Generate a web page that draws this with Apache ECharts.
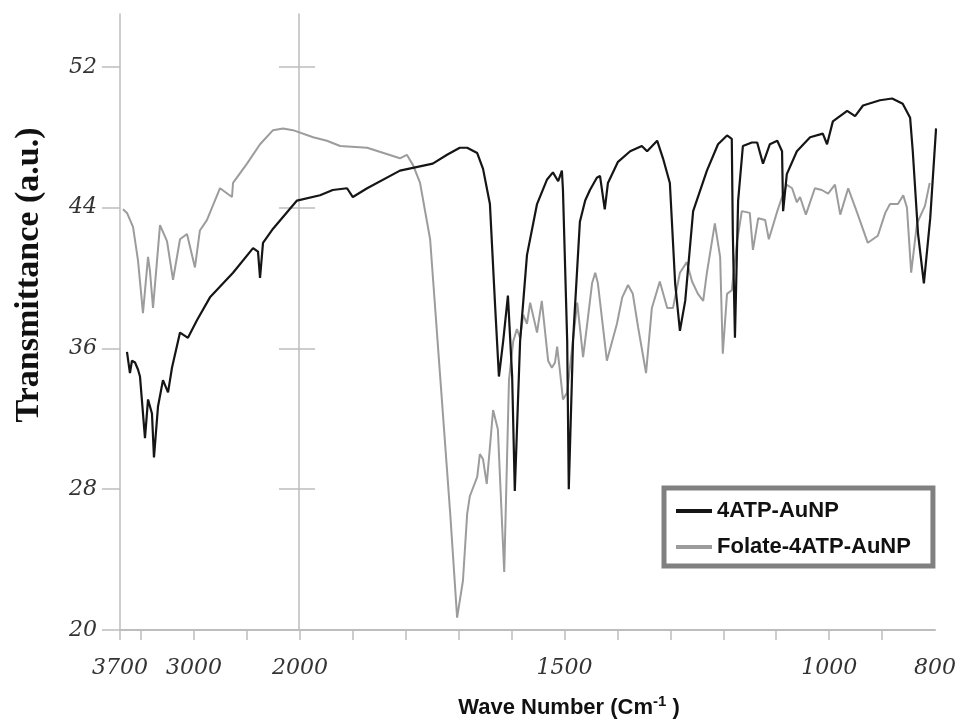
<!DOCTYPE html>
<html>
<head>
<meta charset="utf-8">
<title>FTIR spectra</title>
<script src="https://cdn.jsdelivr.net/npm/echarts@6/dist/echarts.min.js"></script>
<style>
  html, body { margin: 0; padding: 0; background: #fff; }
  #chart { width: 961px; height: 721px; }
</style>
</head>
<body>
<div id="chart"></div>
<script>
// Series names
const seriesNames = ['4ATP-AuNP', 'Folate-4ATP-AuNP'];

// 4ATP-AuNP (wave number cm-1, transmittance a.u.)
const waveBlack = [3634, 3606, 3587, 3558, 3530, 3511, 3464, 3435, 3398, 3379, 3341, 3294, 3246, 3209, 3133, 3058, 2973, 2850, 2632, 2443, 2396, 2377, 2349, 2254, 2028,
  1962, 1938, 1911, 1900, 1873, 1811, 1749, 1722, 1698, 1684, 1665, 1654, 1641, 1631, 1624, 1616, 1607, 1599, 1594, 1584, 1571, 1552, 1533, 1522, 1512, 1505, 1503,
  1495, 1492, 1484, 1471, 1461, 1452, 1439, 1433, 1424, 1418, 1399, 1376, 1354, 1344, 1325, 1314, 1301, 1291, 1282, 1272, 1257, 1231, 1210, 1193, 1184, 1182, 1178,
  1172, 1163, 1146, 1136, 1125, 1112, 1098, 1089, 1087, 1080, 1061, 1036, 1012, 1004, 993, 966, 951, 936, 904, 881, 861, 847, 842, 832, 821, 809, 798];
const transBlack = [35.8, 34.6, 35.3, 35.2, 34.8, 34.4, 30.9, 33.1, 32.3, 29.8, 32.7, 34.2, 33.5, 34.9, 36.9, 36.6, 37.6, 38.9, 40.3, 41.7, 41.5, 40.0, 42.0, 42.8, 44.4,
  44.7, 45.0, 45.1, 44.6, 45.1, 46.1, 46.5, 47.0, 47.4, 47.4, 47.1, 46.2, 44.2, 38.3, 34.4, 36.4, 39.0, 34.4, 27.9, 36.4, 41.3, 44.2, 45.6, 46.0, 45.5, 46.1, 45.0,
  36.4, 28.0, 36.4, 43.2, 44.4, 45.0, 45.7, 45.8, 43.9, 45.4, 46.6, 47.2, 47.5, 47.2, 47.8, 46.8, 45.4, 39.7, 37.0, 38.7, 43.8, 46.1, 47.6, 48.1, 47.9, 42.5, 36.6,
  44.4, 47.5, 47.7, 47.7, 46.5, 47.6, 47.8, 47.2, 43.8, 45.9, 47.2, 48.0, 48.2, 47.6, 48.9, 49.5, 49.2, 49.8, 50.1, 50.2, 49.9, 49.1, 47.2, 42.5, 39.7, 43.4, 48.5];

// Folate-4ATP-AuNP
const waveGray = [3672, 3634, 3577, 3530, 3483, 3435, 3417, 3388, 3322, 3256, 3199, 3133, 3067, 2992, 2945, 2878, 2755, 2642, 2632, 2500, 2377, 2254, 2160, 2066,
  1975, 1949, 1924, 1873, 1811, 1798, 1786, 1773, 1754, 1735, 1716, 1703, 1692, 1684, 1679, 1665, 1660, 1654, 1647, 1635, 1626, 1614, 1605, 1597, 1590, 1584,
  1578, 1571, 1565, 1552, 1543, 1531, 1524, 1518, 1514, 1509, 1503, 1495, 1484, 1476, 1471, 1465, 1458, 1448, 1442, 1437, 1420, 1401, 1391, 1380, 1371, 1361,
  1346, 1335, 1320, 1306, 1295, 1282, 1269, 1259, 1248, 1238, 1231, 1216, 1206, 1201, 1193, 1184, 1174, 1165, 1150, 1144, 1134, 1121, 1114, 1098, 1089, 1080,
  1070, 1061, 1055, 1044, 1027, 1014, 1002, 989, 979, 964, 947, 927, 908, 894, 885, 870, 860, 853, 845, 834, 819, 810];
const transGray = [43.9, 43.7, 42.9, 41.0, 38.0, 41.2, 40.4, 38.3, 43.0, 42.1, 39.9, 42.2, 42.5, 40.6, 42.7, 43.3, 45.1, 44.6, 45.4, 46.5, 47.6, 48.4, 48.5, 48.4,
  48.0, 47.8, 47.5, 47.4, 46.8, 47.0, 46.4, 45.4, 42.2, 34.4, 26.6, 20.7, 22.8, 26.6, 27.6, 28.7, 30.0, 29.7, 28.3, 32.5, 31.4, 23.3, 34.2, 36.4, 37.1, 36.6,
  37.9, 37.4, 38.6, 36.9, 38.7, 35.3, 34.9, 35.2, 36.1, 34.8, 33.1, 33.5, 36.5, 38.6, 37.2, 35.5, 37.2, 39.7, 40.3, 39.7, 35.3, 37.4, 38.9, 39.6, 39.1, 37.2,
  34.6, 38.3, 39.8, 38.3, 38.3, 40.3, 40.9, 39.8, 39.1, 38.7, 40.3, 43.1, 41.2, 35.7, 39.1, 39.3, 42.1, 43.8, 43.7, 41.6, 43.4, 43.3, 42.2, 43.8, 44.6, 45.3,
  45.1, 44.3, 44.6, 43.6, 45.1, 45.0, 44.8, 45.3, 43.6, 45.1, 43.7, 42.0, 42.4, 43.7, 44.2, 44.2, 44.7, 44.0, 40.3, 43.1, 44.1, 45.4];

// Axis labels
const xTickLabels = [3700, 3000, 2000, 1500, 1000, 800];
const xMinorTicks = [3500, 3000, 2500, 2000, 1900, 1800, 1700, 1600, 1500, 1400, 1300, 1200, 1100, 1000, 900];
const yTickLabels = [20, 28, 36, 44, 52];

// The wave number axis changes scale at 2000: 3700-2000 is squeezed 5x
const toAxis = w => (w >= 2000 ? (3700 - w) / 5 : 340 + (2000 - w));
const fromAxis = u => (u <= 340 ? 3700 - u * 5 : 2000 - (u - 340));

const pairs = (ws, ts) => ws.map((w, i) => [toAxis(w), ts[i]]);

const chart = echarts.init(document.getElementById('chart'));

const axisGray = '#bdbdbd';
const labelFont = { fontFamily: 'DejaVu Serif', fontStyle: 'italic', fontSize: 22, color: '#333' };

const option = {
  animation: false,
  backgroundColor: '#fff',
  grid: { left: 120, right: 26, top: 14, bottom: 91 },
  legend: {
    data: seriesNames,
    orient: 'vertical',
    left: 664,
    top: 488,
    padding: [12, 22, 8, 12],
    itemGap: 14,
    itemWidth: 36,
    itemHeight: 4,
    icon: 'rect',
    borderColor: '#808080',
    borderWidth: 5,
    backgroundColor: '#fff',
    textStyle: { fontFamily: 'Liberation Sans', fontWeight: 'bold', fontSize: 22, lineHeight: 22, color: '#111' }
  },
  xAxis: {
    type: 'value',
    min: 0,
    max: 1540,
    axisLine: { lineStyle: { color: axisGray, width: 2 } },
    axisTick: {
      show: true,
      length: 10,
      lineStyle: { color: axisGray, width: 1.5 },
      customValues: [0].concat(xMinorTicks.map(toAxis))
    },
    axisLabel: Object.assign({
      margin: 27,
      customValues: xTickLabels.map(toAxis),
      formatter: v => String(Math.round(fromAxis(v)))
    }, labelFont),
    splitLine: { show: false }
  },
  yAxis: [
    {
      type: 'value',
      min: 20,
      max: 55,
      axisLine: { show: true, lineStyle: { color: axisGray, width: 1.5 } },
      axisTick: { show: true, length: 18, lineStyle: { color: axisGray, width: 1.5 }, customValues: yTickLabels },
      axisLabel: Object.assign({ margin: 23, customValues: yTickLabels }, labelFont),
      splitLine: { show: false }
    },
    {
      // vertical guide at 2000 with outward marks
      type: 'value',
      min: 20,
      max: 55,
      position: 'left',
      offset: -179,
      axisLine: { show: true, lineStyle: { color: axisGray, width: 1.5 } },
      axisTick: { show: true, length: 20, lineStyle: { color: axisGray, width: 1.5 }, customValues: [28, 36, 44, 52] },
      axisLabel: { show: false },
      splitLine: { show: false }
    },
    {
      type: 'value',
      min: 20,
      max: 55,
      position: 'left',
      offset: -179,
      axisLine: { show: false },
      axisTick: { show: true, inside: true, length: 16, lineStyle: { color: axisGray, width: 1.5 }, customValues: [28, 36, 44, 52] },
      axisLabel: { show: false },
      splitLine: { show: false }
    }
  ],
  graphic: [
    {
      type: 'text',
      x: 29,
      y: 275,
      rotation: Math.PI / 2,
      style: {
        text: 'Transmittance (a.u.)',
        font: 'bold 34px "Liberation Serif"',
        fill: '#111',
        align: 'center',
        verticalAlign: 'middle'
      }
    },
    {
      type: 'text',
      x: 569,
      y: 708,
      style: {
        text: '{a|Wave Number (Cm}{b|-1}{a| )}',
        align: 'center',
        verticalAlign: 'middle',
        rich: {
          a: { fontFamily: 'Liberation Sans', fontWeight: 'bold', fontSize: 22, fill: '#111' },
          b: { fontFamily: 'Liberation Sans', fontWeight: 'bold', fontSize: 15, fill: '#111', verticalAlign: 'top', padding: [0, 0, 12, 0] }
        }
      }
    }
  ],
  series: [
    {
      name: seriesNames[0],
      type: 'line',
      yAxisIndex: 0,
      symbol: 'none',
      color: '#151515',
      lineStyle: { width: 2.2, color: '#151515' },
      data: pairs(waveBlack, transBlack),
      z: 3
    },
    {
      name: seriesNames[1],
      type: 'line',
      yAxisIndex: 0,
      symbol: 'none',
      color: '#9c9c9c',
      lineStyle: { width: 2, color: '#9c9c9c' },
      data: pairs(waveGray, transGray),
      z: 2
    }
  ]
};

chart.setOption(option);
</script>
</body>
</html>
